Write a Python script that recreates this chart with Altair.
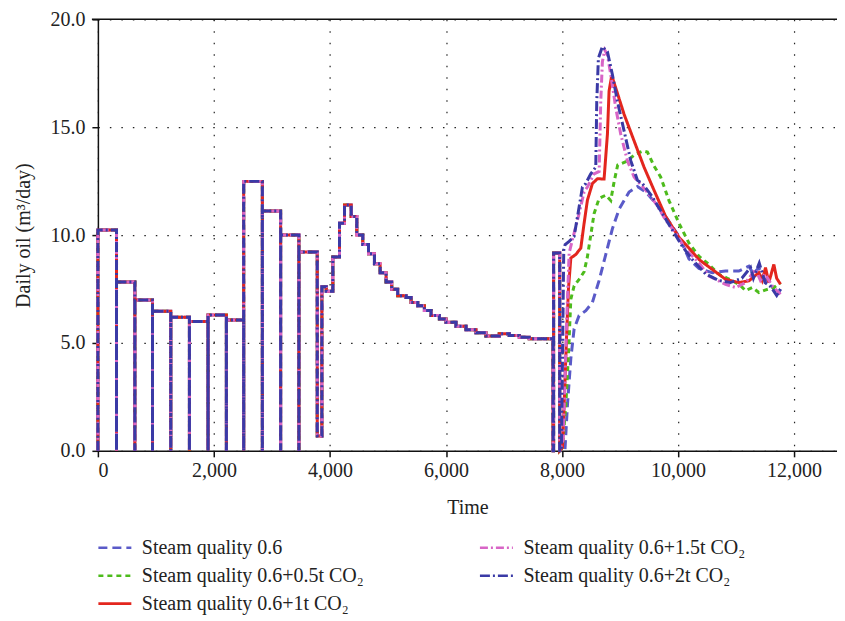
import altair as alt
import pandas as pd

# ---------------- data ----------------
series_names = [
    "Steam quality 0.6",
    "Steam quality 0.6+0.5t CO₂",
    "Steam quality 0.6+1t CO₂",
    "Steam quality 0.6+1.5t CO₂",
    "Steam quality 0.6+2t CO₂",
]
# legend order (filled column by column, 3 rows)
legend_order = list(series_names)
colors = {
    series_names[0]: "#5a5ac8",
    series_names[1]: "#4dbb1c",
    series_names[2]: "#e3261e",
    series_names[3]: "#d865c6",
    series_names[4]: "#3a3aa6",
}
dashes = {
    series_names[0]: [9, 5],
    series_names[1]: [5, 4],
    series_names[2]: [1, 0],
    series_names[3]: [8, 3, 2, 3],
    series_names[4]: [10, 3, 2, 3],
}

# cyclic steam stimulation: cycle start day and plateau rate (common to all cases)
cycle_start = [0, 321, 637, 941, 1256, 1578, 1899, 2215, 2513, 2835, 3150, 3465]
cycle_rate = [10.24, 7.83, 6.99, 6.47, 6.19, 6.00, 6.30, 6.06, 12.49, 11.12, 10.00, 9.22]
low_start, low_end, low_rate = 3781, 3861, 0.69
# decline period, stepwise (common)
decl_t = [3861, 3936, 4050, 4165, 4251, 4366, 4463, 4566, 4664, 4767, 4865, 4968, 5065, 5168,
          5312, 5398, 5513, 5628, 5743, 5886, 6001, 6173, 6345, 6517, 6689, 6918, 7091, 7263, 7435]
decl_v = [7.60, 7.40, 8.99, 10.55, 11.39, 10.86, 10.01, 9.56, 9.13, 8.67, 8.26, 7.83, 7.49, 7.19,
          7.11, 6.88, 6.73, 6.50, 6.27, 6.11, 5.96, 5.78, 5.61, 5.47, 5.32, 5.43, 5.35, 5.26, 5.20]
decl_end = 7845
last_cycle_start, last_cycle_end, last_cycle_rate = 7855, 7960, 9.17

# individual responses after ~8000 days
t_06 = [7960, 8050, 8094, 8152, 8209, 8295, 8410, 8524, 8640, 8754, 8869, 8984, 9156, 9300, 9443,
        9615, 9787, 10016, 10188, 10360, 10589, 10819, 11048, 11221, 11300, 11393, 11480, 11565,
        11650, 11708, 11766]
v_06 = [0, 0, 2.14, 4.28, 5.66, 6.27, 6.50, 6.88, 7.90, 9.10, 10.30, 11.20, 12.00, 12.25, 12.00,
        11.47, 10.86, 9.94, 8.90, 8.45, 8.26, 8.33, 8.33, 8.56, 8.20, 8.50, 8.00, 7.80,
        7.50, 7.19, 7.49]

t_05 = [7960, 8008, 8066, 8111, 8152, 8209, 8295, 8381, 8438, 8496, 8553, 8640, 8754, 8840, 8900,
        8960, 9100, 9270, 9400, 9472, 9586, 9700, 9844, 10016, 10188, 10360, 10533, 10705, 10850,
        10992, 11100, 11164, 11278, 11393, 11500, 11651, 11766]
v_05 = [0, 0.15, 2.14, 4.43, 7.03, 7.65, 7.95, 8.30, 9.00, 10.00, 11.00, 11.70, 11.85, 11.60, 12.50,
        13.25, 13.40, 13.76, 13.90, 13.85, 13.20, 12.70, 11.60, 10.55, 9.63, 9.02, 8.64, 8.18, 8.00,
        7.80, 7.60, 7.42, 7.57, 7.34, 7.45, 7.57, 7.80]

t_1 = [7960, 8008, 8037, 8077, 8111, 8152, 8238, 8324, 8381, 8438, 8524, 8610, 8725, 8783, 8811,
       8857, 8926, 9070, 9242, 9414, 9586, 9787, 10016, 10188, 10360, 10589, 10819, 11048, 11221,
       11393, 11450, 11508, 11565, 11651, 11700, 11766]
v_1 = [0, 0.15, 2.15, 5.20, 7.50, 8.94, 9.10, 9.40, 10.55, 11.62, 12.39, 12.61, 12.60, 14.68, 16.67,
       17.40, 16.82, 15.60, 14.37, 13.15, 12.08, 10.86, 9.90, 9.40, 8.87, 8.41, 7.95, 7.80, 7.88,
       8.26, 7.90, 8.49, 7.80, 8.64, 8.00, 7.72]

t_15 = [7960, 8020, 8080, 8123, 8180, 8295, 8381, 8438, 8553, 8640, 8668, 8696, 8737, 8783, 8840,
        8926, 9012, 9127, 9242, 9443, 9615, 9787, 9960, 10132, 10360, 10533, 10819, 10992, 11164,
        11336, 11420, 11500, 11622, 11766]
v_15 = [0, 0.5, 6.00, 9.17, 9.79, 11.00, 12.00, 12.23, 12.84, 12.95, 16.20, 18.04, 18.58, 18.35, 17.43,
        15.90, 14.68, 13.45, 12.69, 12.08, 11.47, 10.70, 10.09, 9.33, 8.72, 8.10, 7.72, 7.57, 7.80,
        8.41, 7.90, 8.20, 7.65, 7.26]

t_2 = [7960, 7990, 8030, 8054, 8123, 8209, 8295, 8352, 8409, 8496, 8582, 8599, 8627, 8696, 8783,
       8869, 8955, 9070, 9185, 9300, 9386, 9558, 9730, 9901, 10073, 10245, 10476, 10700, 10900,
       11100, 11250, 11300, 11400, 11500, 11600, 11700, 11766]
v_2 = [0, 0, 9.30, 9.56, 9.71, 9.94, 11.30, 12.23, 12.39, 12.84, 13.15, 16.20, 18.20, 18.73, 18.50,
       17.43, 16.20, 14.83, 13.45, 12.54, 12.39, 11.77, 11.00, 10.24, 9.48, 8.87, 8.20, 7.90, 7.80,
       8.00, 8.50, 8.00, 8.70, 7.80, 7.60, 7.20, 7.50]

late = {
    series_names[0]: (t_06, v_06),
    series_names[1]: (t_05, v_05),
    series_names[2]: (t_1, v_1),
    series_names[3]: (t_15, v_15),
    series_names[4]: (t_2, v_2),
}

x_ticks = [0, 2000, 4000, 6000, 8000, 10000, 12000]
y_ticks = [0, 5, 10, 15, 20]

# ---------------- build step history (common part) ----------------
common = []
prev = None
for s, r in zip(cycle_start, cycle_rate):
    if prev is not None:
        common += [(s, prev), (s, 0.0)]
    else:
        common += [(s, 0.0)]
    common += [(s, r)]
    prev = r
common += [(low_start, prev), (low_start, low_rate), (low_end, low_rate)]
prev = low_rate
for t, v in zip(decl_t, decl_v):
    common += [(t, prev), (t, v)]
    prev = v
common += [(decl_end, prev), (decl_end, 0.0), (last_cycle_start, 0.0),
           (last_cycle_start, last_cycle_rate), (last_cycle_end, last_cycle_rate),
           (last_cycle_end, 0.0)]

rows = []
for name in series_names:
    pts = list(common) + list(zip(*late[name]))
    for i, (t, v) in enumerate(pts):
        rows.append({"t": t, "v": v, "series": name, "idx": i})
df = pd.DataFrame(rows)

FONT = "Liberation Serif"
W, H = 740, 432
XMAX = 12740

xscale = alt.Scale(domain=[0, XMAX], nice=False, zero=False)
yscale = alt.Scale(domain=[0, 20], nice=False)

color_scale = alt.Scale(domain=legend_order, range=[colors[n] for n in legend_order])
dash_scale = alt.Scale(domain=legend_order, range=[dashes[n] for n in legend_order])

legend = alt.Legend(
    title=None, orient="none", legendX=-1, legendY=511, columns=2,
    columnPadding=110, rowPadding=-8, symbolType="stroke", symbolSize=1089,
    symbolStrokeWidth=2.6, labelFont=FONT, labelFontSize=20, labelColor="#222",
    labelLimit=400, labelOffset=9, padding=0,
)

layers = []
for name in series_names:
    layers.append(
        alt.Chart(df[df["series"] == name]).mark_line(strokeWidth=3, strokeJoin="miter").encode(
            x=alt.X("t:Q", scale=xscale,
                    axis=alt.Axis(title="Time", values=x_ticks, format=",d")),
            y=alt.Y("v:Q", scale=yscale,
                    axis=alt.Axis(title="Daily oil (m³/day)", values=y_ticks, format=".1f")),
            color=alt.Color("series:N", scale=color_scale, legend=legend),
            strokeDash=alt.StrokeDash("series:N", scale=dash_scale, legend=legend),
            order=alt.Order("idx:Q"),
        )
    )

top_line = alt.Chart(pd.DataFrame({"y": [20]})).mark_rule(color="#111", strokeWidth=1.5).encode(
    y=alt.Y("y:Q", scale=yscale), x=alt.value(-6), x2=alt.value(W)
)

chart = alt.layer(top_line, *layers).properties(
    width=W, height=H,
    autosize=alt.AutoSizeParams(type="none"),
    padding={"left": 90, "top": 11, "right": 0, "bottom": 166},
).configure_view(stroke=None).configure_axis(
    labelFont=FONT, labelFontSize=20, labelColor="#222",
    titleFont=FONT, titleFontSize=20, titleColor="#222", titleFontWeight="normal",
    domainColor="#111", domainWidth=1.5, tickColor="#111", tickWidth=1.5, tickSize=6,
    grid=True, gridColor="#222", gridDash=[1.5, 10], gridWidth=1.2, gridOpacity=1,
).configure_axisY(labelPadding=7, titlePadding=16).configure_axisX(labelPadding=4, titlePadding=17)

chart.save("out.html", embed_options={"renderer": "svg", "actions": False})
